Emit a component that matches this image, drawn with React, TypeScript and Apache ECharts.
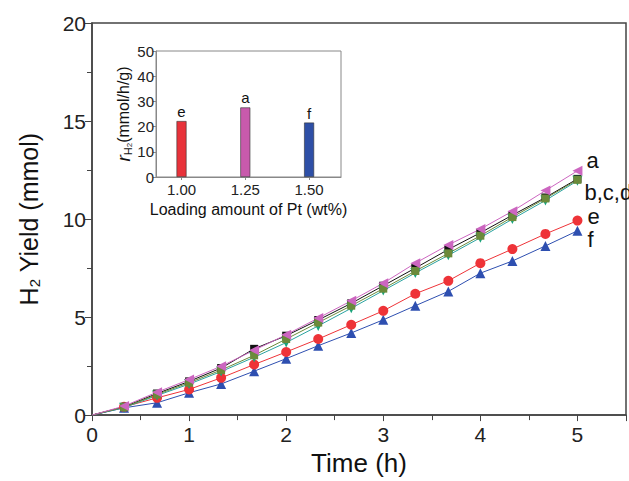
import React, { useEffect, useRef } from "react";
import * as echarts from "echarts";

const times = [0, 0.33, 0.67, 1, 1.33, 1.67, 2, 2.33, 2.67, 3, 3.33, 3.67, 4, 4.33, 4.67, 5];
const seriesA = [0, 0.46, 1.17, 1.81, 2.49, 3.31, 4.1, 4.95, 5.83, 6.73, 7.75, 8.68, 9.49, 10.4, 11.45, 12.46];
const seriesB = [0, 0.42, 1.1, 1.72, 2.4, 3.38, 4.05, 4.85, 5.7, 6.6, 7.5, 8.45, 9.3, 10.2, 11.1, 12.05];
const seriesC = [0, 0.38, 1.0, 1.58, 2.22, 2.95, 3.7, 4.55, 5.45, 6.35, 7.25, 8.15, 9.05, 10.0, 10.95, 11.95];
const seriesD = [0, 0.4, 1.05, 1.65, 2.3, 3.05, 3.88, 4.72, 5.58, 6.45, 7.35, 8.25, 9.15, 10.1, 11.05, 12.0];
const seriesE = [0, 0.42, 0.88, 1.31, 1.9, 2.58, 3.22, 3.88, 4.61, 5.32, 6.19, 6.85, 7.75, 8.47, 9.24, 9.92];
const seriesF = [0, 0.37, 0.63, 1.14, 1.59, 2.24, 2.88, 3.54, 4.19, 4.86, 5.58, 6.31, 7.24, 7.86, 8.63, 9.4];

const loadings = [1.0, 1.25, 1.5];
const rates = [22.2, 27.6, 21.6];
const barLetters = ["e", "a", "f"];
const barColors = ["#e8323a", "#c85aac", "#2e4fa6"];

const xTicks = [1.0, 1.25, 1.5];

const FONT = "Arial, 'Liberation Sans', Helvetica, sans-serif";

function mkData(vals: number[]) {
  return times.map((t, i) =>
    i === 0 ? { value: [t, vals[i]], symbol: "none" } : [t, vals[i]]
  );
}

function lineSeries(
  vals: number[],
  color: string,
  symbol: string,
  rotate: number,
  size: number,
  endText: string | null,
  offset: number[],
  lineColor?: string
) {
  return {
    type: "line",
    xAxisIndex: 0,
    yAxisIndex: 0,
    data: mkData(vals),
    symbol,
    symbolRotate: rotate,
    symbolSize: size,
    showAllSymbol: true,
    lineStyle: { color: lineColor || color, width: 1 },
    itemStyle: { color, borderWidth: 0 },
    z: 3,
    endLabel: endText
      ? {
          show: true,
          formatter: () => endText,
          color: "#111",
          fontSize: 22,
          fontFamily: FONT,
          offset,
        }
      : { show: false },
  };
}

export default function App() {
  const ref = useRef<HTMLDivElement>(null);
  useEffect(() => {
    if (!ref.current) return;
    const chart = echarts.init(ref.current, undefined, { renderer: "svg" });
    chart.setOption({
      animation: false,
      backgroundColor: "#fff",
      grid: [
        {
          left: 92,
          top: 23,
          width: 543,
          height: 396,
          show: true,
          borderColor: "#444",
          borderWidth: 1.5,
        },
        {
          left: 156,
          top: 51,
          width: 185,
          height: 126,
          show: true,
          borderColor: "#888",
          borderWidth: 1,
          backgroundColor: "#fff",
          z: 5,
        },
      ],
      xAxis: [
        {
          type: "value",
          gridIndex: 0,
          min: 0,
          max: 5.5,
          interval: 1,
          name: "Time (h)",
          nameLocation: "middle",
          nameGap: 31,
          nameTextStyle: { fontSize: 26, color: "#111", fontFamily: FONT },
          axisLine: { show: true, lineStyle: { color: "#444", width: 1.5 } },
          axisTick: { show: true, length: 6, lineStyle: { color: "#444" } },
          minorTick: { show: true, splitNumber: 2, length: 5, lineStyle: { color: "#444" } },
          splitLine: { show: false },
          axisLabel: {
            fontSize: 21,
            color: "#222",
            fontFamily: FONT,
            margin: 9,
            formatter: (v: number) => (v > 5 ? "" : String(v)),
          },
        },
        {
          type: "value",
          gridIndex: 1,
          min: 0.9,
          max: 1.625,
          axisLine: { show: true, lineStyle: { color: "#888", width: 1 } },
          axisTick: { show: true, length: 3, lineStyle: { color: "#888" }, customValues: xTicks },
          splitLine: { show: false },
          name: "Loading amount of Pt (wt%)",
          nameLocation: "middle",
          nameGap: 24,
          nameTextStyle: { fontSize: 16, color: "#111", fontFamily: FONT },
          axisLabel: {
            customValues: xTicks,
            fontSize: 15,
            color: "#222",
            fontFamily: FONT,
            margin: 5,
            formatter: (v: number) => v.toFixed(2),
          },
          z: 6,
        },
      ],
      yAxis: [
        {
          type: "value",
          gridIndex: 0,
          min: 0,
          max: 20,
          interval: 5,
          name: "H{sub|2} Yield (mmol)",
          nameLocation: "middle",
          nameRotate: 90,
          nameGap: 50,
          nameTextStyle: {
            fontSize: 25,
            color: "#111",
            fontFamily: FONT,
            rich: {
              sub: { fontSize: 15, verticalAlign: "bottom", padding: [12, 0, 0, 0], color: "#111", fontFamily: FONT },
            },
          },
          axisLine: { show: true, lineStyle: { color: "#444", width: 1.5 } },
          axisTick: { show: true, length: 7, lineStyle: { color: "#444" } },
          minorTick: { show: true, splitNumber: 2, length: 5, lineStyle: { color: "#444" } },
          splitLine: { show: false },
          axisLabel: { fontSize: 21, color: "#222", fontFamily: FONT, margin: 6 },
        },
        {
          type: "value",
          gridIndex: 1,
          min: 0,
          max: 50,
          interval: 10,
          name: "{i|r}{sub|H}{sub2|2}{n|(mmol/h/g)}",
          nameLocation: "middle",
          nameRotate: 90,
          nameGap: 19,
          nameTextStyle: {
            fontSize: 16,
            color: "#111",
            fontFamily: FONT,
            rich: {
              i: { fontSize: 19, fontStyle: "italic", color: "#111", fontFamily: FONT },
              sub: { fontSize: 11, verticalAlign: "bottom", padding: [9, 0, 0, 0], color: "#111", fontFamily: FONT },
              sub2: { fontSize: 8, verticalAlign: "bottom", padding: [12, 0, 0, 0], color: "#111", fontFamily: FONT },
              n: { fontSize: 16, color: "#111", fontFamily: FONT },
            },
          },
          axisLine: { show: true, lineStyle: { color: "#888", width: 1 } },
          axisTick: { show: true, length: 3, lineStyle: { color: "#888" } },
          splitLine: { show: false },
          axisLabel: { fontSize: 15, color: "#222", fontFamily: FONT, margin: 2 },
          z: 6,
        },
      ],
      series: [
        lineSeries(seriesF, "#2e4fb0", "triangle", 0, 10, "f", [2, 9]),
        lineSeries(seriesE, "#ee3338", "circle", 0, 10, "e", [2, -4]),
        lineSeries(seriesB, "#111", "rect", 0, 8, "b,c,d", [-1, 14]),
        lineSeries(seriesC, "#1aa37a", "triangle", 180, 10, null, [0, 0], "#2aa3a0"),
        lineSeries(seriesD, "#6b8a3a", "rect", 0, 8, null, [0, 0]),
        lineSeries(seriesA, "#cc66c0", "triangle", 90, 10, "a", [1, -10]),
        {
          type: "bar",
          xAxisIndex: 1,
          yAxisIndex: 1,
          barWidth: 10,
          z: 7,
          data: loadings.map((x, i) => ({
            value: [x, rates[i]],
            itemStyle: { color: barColors[i], borderColor: "#333", borderWidth: 0.6 },
          })),
          label: {
            show: true,
            position: "top",
            distance: 2,
            fontSize: 15,
            color: "#111",
            fontFamily: FONT,
            formatter: (p: any) => barLetters[p.dataIndex],
          },
        },
      ],
    });
    return () => chart.dispose();
  }, []);
  return <div ref={ref} style={{ width: 629, height: 481, position: "absolute", left: 0, top: 0 }} />;
}
